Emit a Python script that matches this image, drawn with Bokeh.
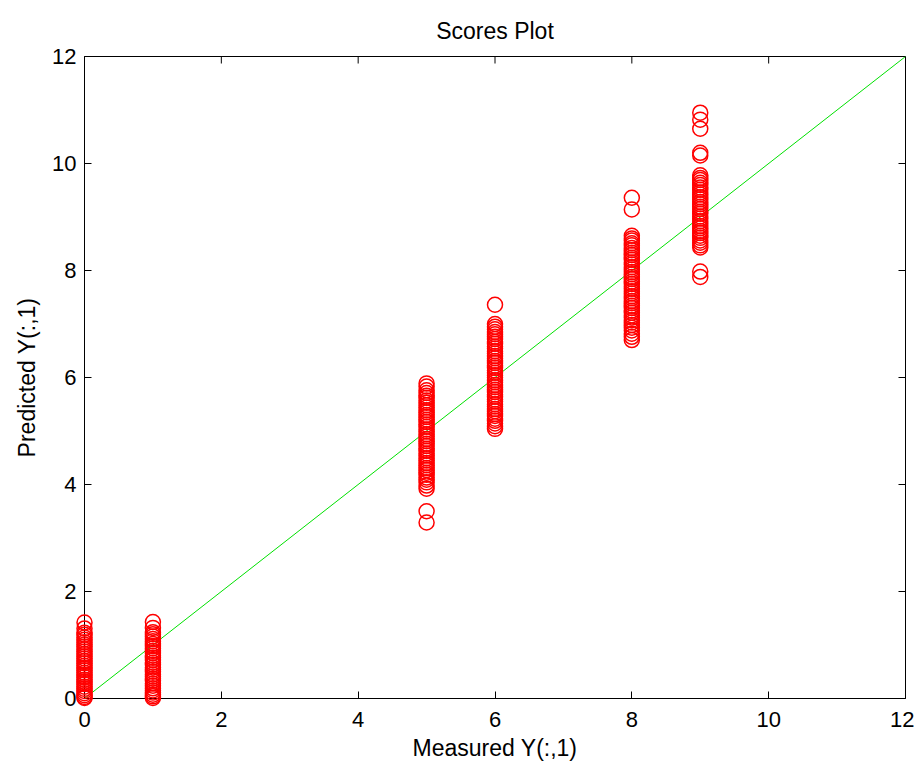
import math
from bokeh.plotting import figure
from bokeh.models import ColumnDataSource, FixedTicker, Range1d
from bokeh.embed import file_html
from bokeh.resources import INLINE

# Measured classes and predicted values
y_at_0 = [1.42, 1.31, 1.23, 1.19, 1.14, 1.10, 1.05, 1.01, 0.97, 0.92, 0.88, 0.83, 0.79,
          0.75, 0.70, 0.66, 0.61, 0.57, 0.53, 0.48, 0.44, 0.40, 0.35, 0.31, 0.27, 0.22,
          0.18, 0.14, 0.10, 0.06, 0.03, 0.01]
y_at_1 = [1.43, 1.32, 1.24, 1.20, 1.16, 1.11, 1.07, 1.02, 0.98, 0.94, 0.89, 0.85, 0.80,
          0.76, 0.72, 0.67, 0.63, 0.58, 0.54, 0.50, 0.45, 0.41, 0.37, 0.33, 0.28, 0.24,
          0.19, 0.15, 0.11, 0.07, 0.04, 0.01]
y_at_5 = [5.89, 5.83, 5.76, 5.71, 5.66, 5.62, 5.57, 5.53, 5.48, 5.44, 5.39, 5.35, 5.30,
          5.26, 5.21, 5.17, 5.12, 5.08, 5.03, 4.99, 4.94, 4.90, 4.85, 4.81, 4.76, 4.72,
          4.67, 4.63, 4.58, 4.54, 4.49, 4.45, 4.40, 4.36, 4.31, 4.27, 4.22, 4.18, 4.13,
          4.09, 4.04, 3.98, 3.92, 3.50, 3.29]
y_at_6 = [7.36, 7.00, 6.95, 6.90, 6.85, 6.81, 6.76, 6.72, 6.67, 6.63, 6.58, 6.54, 6.49,
          6.45, 6.40, 6.36, 6.31, 6.27, 6.22, 6.18, 6.13, 6.09, 6.04, 6.00, 5.95, 5.91,
          5.86, 5.82, 5.77, 5.73, 5.68, 5.64, 5.59, 5.55, 5.50, 5.46, 5.41, 5.37, 5.32,
          5.28, 5.23, 5.19, 5.14, 5.09, 5.04]
y_at_8 = [9.36, 9.14, 8.65, 8.60, 8.56, 8.51, 8.47, 8.42, 8.38, 8.33, 8.29, 8.24, 8.20,
          8.15, 8.11, 8.06, 8.02, 7.97, 7.93, 7.88, 7.84, 7.79, 7.75, 7.70, 7.66, 7.61,
          7.57, 7.52, 7.48, 7.43, 7.39, 7.34, 7.30, 7.25, 7.21, 7.16, 7.12, 7.07, 7.03,
          6.98, 6.93, 6.88, 6.82, 6.76, 6.70]
y_at_9 = [10.95, 10.82, 10.65, 10.20, 10.15, 9.78, 9.73, 9.69, 9.64, 9.60, 9.55, 9.51,
          9.46, 9.42, 9.37, 9.33, 9.28, 9.24, 9.19, 9.15, 9.10, 9.06, 9.01, 8.97, 8.92,
          8.88, 8.83, 8.79, 8.74, 8.70, 8.65, 8.61, 8.56, 8.52, 8.47, 8.43, 7.98, 7.88]

measured_classes = [0, 1, 5, 6, 8, 9]
predicted_groups = [y_at_0, y_at_1, y_at_5, y_at_6, y_at_8, y_at_9]
tick_values = [0, 2, 4, 6, 8, 10, 12]
axis_min, axis_max = 0, 12

xs, ys = [], []
for c, grp in zip(measured_classes, predicted_groups):
    xs.extend([c] * len(grp))
    ys.extend(grp)
src = ColumnDataSource(dict(x=xs, y=ys))

FONT = "Liberation Sans"

p = figure(width=914, height=760, output_backend="svg", toolbar_location=None,
           x_range=Range1d(axis_min, axis_max), y_range=Range1d(axis_min, axis_max),
           min_border_left=84, min_border_right=9, min_border_top=56, min_border_bottom=10,
           frame_width=821, frame_height=642,
           title="Scores Plot")
p.title.align = "center"
p.title.text_font = FONT
p.title.text_font_size = "23px"
p.title.text_font_style = "normal"
p.title.text_color = "black"
p.title.standoff = 25

p.xgrid.visible = False
p.ygrid.visible = False
p.outline_line_color = "black"
p.outline_line_width = 1
p.background_fill_color = "white"
p.border_fill_color = "white"

for ax in [p.xaxis[0], p.yaxis[0]]:
    ax.ticker = FixedTicker(ticks=tick_values)
    ax.major_tick_in = 7
    ax.major_tick_out = 0
    ax.minor_tick_line_color = None
    ax.major_label_text_font = FONT
    ax.major_label_text_font_size = "22px"
    ax.major_label_text_color = "black"
    ax.axis_label_text_font = FONT
    ax.axis_label_text_font_size = "23px"
    ax.axis_label_text_font_style = "normal"
    ax.axis_label_text_color = "black"
    ax.axis_line_color = "black"

p.xaxis.major_label_standoff = 13
p.yaxis.major_label_standoff = 8
p.xaxis.axis_label = "Measured Y(:,1)"
p.yaxis.axis_label = "Predicted Y(:,1)"
p.yaxis.axis_label_standoff = 9
p.xaxis.axis_label_standoff = 5

# mirrored inward ticks on the top and right edges
p.ray(x=tick_values, y=[axis_max] * len(tick_values), length=7, length_units="screen",
      angle=-math.pi / 2, line_color="black", line_width=1)
p.ray(x=[axis_max] * len(tick_values), y=tick_values, length=7, length_units="screen",
      angle=math.pi, line_color="black", line_width=1)

p.line(x=[axis_min, axis_max], y=[axis_min, axis_max], line_color="#00e000", line_width=1)
p.scatter(x="x", y="y", source=src, marker="circle", size=15,
          fill_color=None, line_color="red", line_width=1.5, level="overlay")

open("out.html", "w").write(file_html(p, INLINE))
